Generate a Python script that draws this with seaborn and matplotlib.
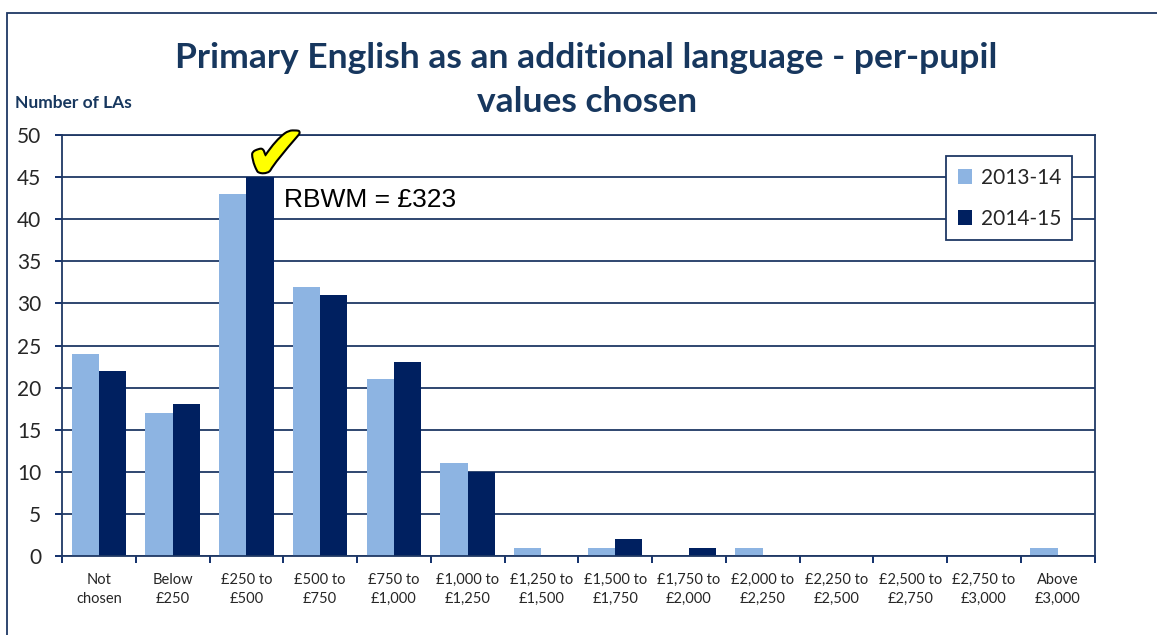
import numpy as np
import pandas as pd
import matplotlib
matplotlib.use('Agg')
import matplotlib.pyplot as plt
import matplotlib.patheffects as pe
from matplotlib.patches import Rectangle
import seaborn as sns

# データ
categories = ['Not\nchosen', 'Below\n£250', '£250 to\n£500', '£500 to\n£750', '£750 to\n£1,000',
              '£1,000 to\n£1,250', '£1,250 to\n£1,500', '£1,500 to\n£1,750', '£1,750 to\n£2,000',
              '£2,000 to\n£2,250', '£2,250 to\n£2,500', '£2,500 to\n£2,750', '£2,750 to\n£3,000',
              'Above\n£3,000']
years = ['2013-14', '2014-15']
vals_1314 = [24, 17, 43, 32, 21, 11, 1, 1, 0, 1, 0, 0, 0, 1]
vals_1415 = [22, 18, 45, 31, 23, 10, 0, 2, 1, 0, 0, 0, 0, 0]
yticks = list(range(0, 51, 5))
rbwm_label = 'RBWM = £323'
rbwm_cat = 2

df = pd.DataFrame({
    'cat': categories * 2,
    'year': [years[0]] * len(categories) + [years[1]] * len(categories),
    'n': vals_1314 + vals_1415,
})

sns.set_style('white')
plt.rcParams['font.family'] = ['Lato', 'DejaVu Sans']

navy = '#002060'
line_col = '#1F3864'
title_col = '#17375E'
fig = plt.figure(figsize=(11.57, 6.35), dpi=100)
ax = fig.add_axes([0.0536, 0.1244, 0.8925, 0.663])

sns.barplot(data=df, x='cat', y='n', hue='year', order=categories, hue_order=years,
            palette=['#8DB4E2', navy], width=0.74, gap=0, saturation=1,
            linewidth=0, edgecolor='none', ax=ax)

ax.set_ylim(0, 50)
ax.set_xlim(-0.5, len(categories) - 0.5)
ax.set_yticks(yticks)
ax.set_yticklabels([str(t) for t in yticks], fontsize=15)
ax.yaxis.grid(True, color=line_col, linewidth=1.3)
ax.set_axisbelow(True)
ax.set_xlabel('')
ax.set_ylabel('')
ax.set_xticks(range(len(categories)))
ax.set_xticklabels(categories, fontsize=10.5, linespacing=1.45)
ax.tick_params(axis='x', length=0, pad=12)
ax.tick_params(axis='y', left=True, length=5, color=navy, width=1.3, pad=10)
ax.set_xticks(np.arange(len(categories) + 1) - 0.5, minor=True)
ax.tick_params(axis='x', which='minor', bottom=True, length=5, color=navy, width=1.3)
for s in ax.spines.values():
    s.set_color(line_col)
    s.set_linewidth(1.3)

# 凡例
leg = ax.legend(loc='upper right', bbox_to_anchor=(0.9885, 0.974), fontsize=15,
                frameon=True, fancybox=False, handlelength=0.7, handleheight=0.7,
                handletextpad=0.4, labelspacing=1.0, borderpad=0.55, framealpha=1)
leg.get_frame().set_edgecolor(line_col)
leg.get_frame().set_linewidth(1.3)

# チェックマークと注記
ax.text(rbwm_cat + 0.4, vals_1415[rbwm_cat] - 2.1, '✔', fontsize=54, color='#FFFF00',
        ha='center', va='bottom', family='DejaVu Sans',
        path_effects=[pe.withStroke(linewidth=3, foreground='black')], zorder=5)
ax.text(rbwm_cat + 0.51, 42.3, rbwm_label, fontsize=19, family='Liberation Sans',
        color='black', ha='left', va='center', zorder=5)

# タイトル
fig.text(0.507, 0.874, 'Primary English as an additional language - per-pupil\nvalues chosen',
         ha='center', va='center', fontsize=25.5, fontweight='bold', color=title_col,
         linespacing=1.45)
fig.text(0.013, 0.838, 'Number of LAs', fontsize=12.5, fontweight='bold', color=title_col,
         ha='left', va='center')

# 外枠
fig.patches.append(Rectangle((0.006, -0.1), 1.2, 1.08, transform=fig.transFigure,
                             fill=False, edgecolor=line_col, linewidth=1.3))

fig.savefig('out.png', dpi=100)
